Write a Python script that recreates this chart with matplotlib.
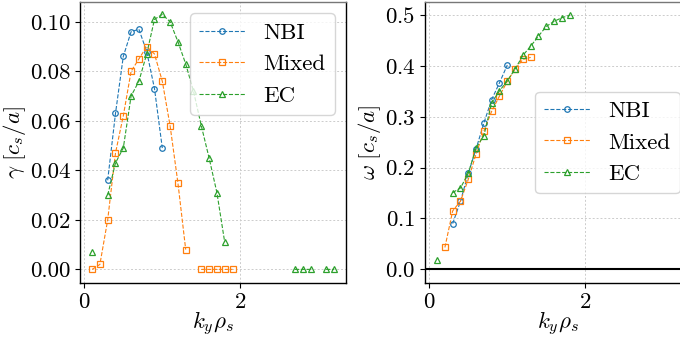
import numpy as np
import matplotlib
matplotlib.use("Agg")
import matplotlib.pyplot as plt

plt.rcParams["font.family"] = "serif"
plt.rcParams["font.serif"] = ["cmr10"]
plt.rcParams["mathtext.fontset"] = "cm"
plt.rcParams["axes.formatter.use_mathtext"] = True
plt.rcParams["font.size"] = 16.5

nan = np.nan

# NBI
ky_nbi = [0.3, 0.4, 0.5, 0.6, 0.7, 0.8, 0.9, 1.0]
gamma_nbi = [0.036, 0.063, 0.086, 0.096, 0.097, 0.088, 0.073, 0.049]
omega_nbi = [0.090, 0.134, 0.189, 0.237, 0.288, 0.334, 0.367, 0.402]

# Mixed (nan = missing run, breaks the line)
ky_mix = [0.1, 0.2, 0.3, 0.4, 0.5, 0.6, 0.7, 0.8, 0.9, 1.0, 1.1, 1.2, 1.3,
          1.4, 1.5, 1.6, 1.7, 1.8, 1.9]
gamma_mix = [0.0, 0.002, 0.020, 0.047, 0.062, 0.080, 0.085, 0.090, 0.087,
             0.076, 0.058, 0.035, 0.008, nan, 0.0, 0.0, 0.0, 0.0, 0.0]
omega_mix = [nan, 0.043, 0.115, 0.134, 0.177, 0.227, 0.272, 0.311, 0.341,
             0.370, 0.394, 0.413, 0.417, nan, nan, nan, nan, nan, nan]

# EC
ky_ec = [0.1, 0.2, 0.3, 0.4, 0.5, 0.6, 0.7, 0.8, 0.9, 1.0, 1.1, 1.2, 1.3,
         1.4, 1.5, 1.6, 1.7, 1.8, 1.9, 2.7, 2.8, 2.9, 3.0, 3.1, 3.2]
gamma_ec = [0.0069, nan, 0.030, 0.043, 0.049, 0.070, 0.076, 0.087, 0.101,
            0.103, 0.100, 0.092, 0.083, 0.072, 0.058, 0.045, 0.031, 0.011,
            nan, 0.0, 0.0, 0.0, nan, 0.0, 0.0]
omega_ec = [0.018, nan, 0.151, 0.160, 0.189, 0.239, 0.263, 0.328, 0.351,
            0.371, 0.394, 0.421, 0.439, 0.459, 0.478, 0.488, 0.495, 0.500,
            nan, nan, nan, nan, nan, nan, nan]

series = [
    ("NBI", ky_nbi, gamma_nbi, omega_nbi, "o", "tab:blue"),
    ("Mixed", ky_mix, gamma_mix, omega_mix, "s", "tab:orange"),
    ("EC", ky_ec, gamma_ec, omega_ec, "^", "tab:green"),
]

fig = plt.figure(figsize=(6.8, 3.39), dpi=100)
ax1 = fig.add_axes([80 / 680, 56 / 339, 266 / 680, 281 / 339])
ax2 = fig.add_axes([425 / 680, 56 / 339, 266 / 680, 281 / 339])

for name, ky, g, w, m, c in series:
    kw = dict(ls="--", lw=0.8, marker=m, ms=4, mfc="none", mew=0.9,
              color=c, label=name)
    ax1.plot(ky, g, **kw)
    ax2.plot(ky, w, **kw)

ax2.axhline(0, color="k", lw=1.5)

ax1.set_ylabel(r"$\gamma\ [c_s/a]$", labelpad=1)
ax2.set_ylabel(r"$\omega\ [c_s/a]$", labelpad=1)
for ax in (ax1, ax2):
    ax.set_xlabel(r"$k_y\rho_s$", labelpad=-2)
    ax.set_xticks([0, 2])
    ax.set_xlim(-0.055, 3.355)
    ax.grid(True, ls=(0, (2, 2)), lw=0.7, color="#cccccc")
    ax.tick_params(direction="out", length=3.5, width=0.8)
    for sp in ax.spines.values():
        sp.set_linewidth(1.0)
    ax.spines["top"].set_color("#777777")

ax1.set_ylim(-0.0055, 0.108)
ax1.set_yticks([0.0, 0.02, 0.04, 0.06, 0.08, 0.10])
ax1.set_yticklabels(["0.00", "0.02", "0.04", "0.06", "0.08", "0.10"])
ax2.set_ylim(-0.027, 0.526)
ax2.set_yticks([0.0, 0.1, 0.2, 0.3, 0.4, 0.5])

ax1.legend(loc="upper right", handlelength=2.0)
ax2.legend(loc="center right", handlelength=2.0)

fig.savefig("out.png", dpi=100)
